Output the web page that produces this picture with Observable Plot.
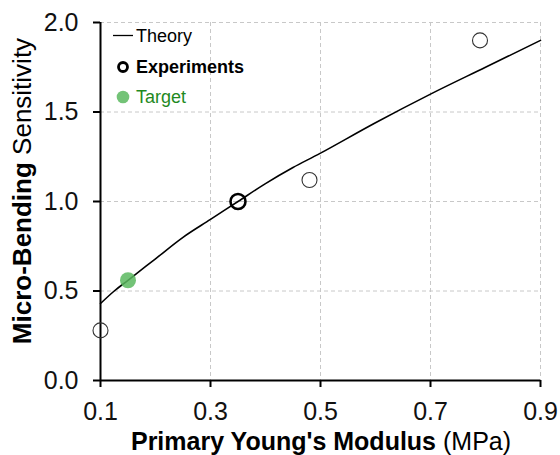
<!DOCTYPE html>
<html>
<head>
<meta charset="utf-8">
<script src="https://cdn.jsdelivr.net/npm/d3@7"></script>
<script src="https://cdn.jsdelivr.net/npm/@observablehq/plot@0.6"></script>
<style>
  html, body { margin: 0; padding: 0; background: #fff; }
  #chart { width: 560px; height: 455px; }
  svg { font-family: "Liberation Sans", Arial, sans-serif; }
</style>
</head>
<body>
<div id="chart"></div>
<script>
// Theory curve
const theoryX = [0.10, 0.125, 0.15, 0.20, 0.25, 0.30, 0.35, 0.40, 0.45, 0.50, 0.60, 0.70, 0.80, 0.90];
const theoryY = [0.43, 0.50, 0.56, 0.68, 0.80, 0.90, 1.00, 1.10, 1.19, 1.27, 1.44, 1.60, 1.75, 1.90];
// Experiments
const expX = [0.10, 0.35, 0.48, 0.79];
const expY = [0.28, 1.00, 1.12, 1.90];
const expBold = [false, true, false, false];
// Target
const targetX = [0.15];
const targetY = [0.56];
// Ticks
const xTicks = [0.1, 0.3, 0.5, 0.7, 0.9];
const yTicks = [0.0, 0.5, 1.0, 1.5, 2.0];

const theory = theoryX.map((x, i) => ({x, y: theoryY[i]}));
const exps = expX.map((x, i) => ({x, y: expY[i], bold: expBold[i]}));
const target = targetX.map((x, i) => ({x, y: targetY[i]}));

const plot = Plot.plot({
  width: 560,
  height: 455,
  marginLeft: 100,
  marginRight: 20,
  marginTop: 22,
  marginBottom: 75,
  style: {fontFamily: "'Liberation Sans', Arial, sans-serif", color: "#000", background: "#fff"},
  x: {domain: [0.1, 0.9], label: null},
  y: {domain: [0, 2], label: null},
  marks: [
    Plot.ruleX(xTicks.filter(d => d > 0.1), {stroke: "#c8c8c8", strokeDasharray: "4,3", strokeWidth: 1}),
    Plot.ruleY(yTicks.filter(d => d > 0), {stroke: "#c8c8c8", strokeDasharray: "4,3", strokeWidth: 1}),
    Plot.axisX({ticks: xTicks, tickFormat: d3.format(".1f"), tickSize: 7, tickPadding: 15, strokeWidth: 2, label: null}),
    Plot.axisY({ticks: yTicks, tickFormat: d3.format(".1f"), tickSize: 7, tickPadding: 15, strokeWidth: 2, label: null}),
    Plot.ruleX([0.1], {stroke: "#000", strokeWidth: 2}),
    Plot.ruleY([0], {stroke: "#000", strokeWidth: 2}),
    Plot.line(theory, {x: "x", y: "y", stroke: "#000", strokeWidth: 1.6, curve: "catmull-rom"}),
    Plot.dot(target, {x: "x", y: "y", r: 8, fill: "#5bb85f", fillOpacity: 0.85, stroke: "none"}),
    Plot.dot(exps.filter(d => !d.bold), {x: "x", y: "y", r: 7.5, fill: "none", stroke: "#333", strokeWidth: 1.1}),
    Plot.dot(exps.filter(d => d.bold), {x: "x", y: "y", r: 7.5, fill: "none", stroke: "#000", strokeWidth: 2.6})
  ]
});

const svg = d3.select(plot);
svg.selectAll('g[aria-label$="tick label"]')
  .attr("font-size", 25).style("font-size", "25px").attr("fill", "#111");

// X axis label
const xl = svg.append("text")
  .attr("x", 321).attr("y", 450)
  .attr("text-anchor", "middle")
  .style("font-size", "25px").attr("fill", "#000");
xl.append("tspan").attr("font-weight", "bold").text("Primary Young's Modulus");
xl.append("tspan").text(" (MPa)");

// Y axis label
const yl = svg.append("text")
  .attr("transform", "translate(31,191) rotate(-90)")
  .attr("text-anchor", "middle")
  .style("font-size", "26px").attr("fill", "#000");
yl.append("tspan").attr("font-weight", "bold").text("Micro-Bending");
yl.append("tspan").text(" Sensitivity");

// Legend
const lg = svg.append("g").style("font-size", "18px").attr("text-anchor", "start");
lg.append("line").attr("x1", 113).attr("x2", 133).attr("y1", 35.5).attr("y2", 35.5).attr("stroke", "#000").attr("stroke-width", 1.3);
lg.append("text").attr("x", 136).attr("y", 42).attr("fill", "#000").text("Theory");
lg.append("circle").attr("cx", 123).attr("cy", 67).attr("r", 4.5).attr("fill", "none").attr("stroke", "#000").attr("stroke-width", 2.8);
lg.append("text").attr("x", 136).attr("y", 73).attr("fill", "#000").attr("font-weight", "bold").text("Experiments");
lg.append("circle").attr("cx", 123).attr("cy", 97).attr("r", 6.3).attr("fill", "#5bb85f").attr("fill-opacity", 0.85);
lg.append("text").attr("x", 136).attr("y", 102.5).attr("fill", "#1f8a1f").text("Target");

document.getElementById("chart").appendChild(plot);
</script>
</body>
</html>
